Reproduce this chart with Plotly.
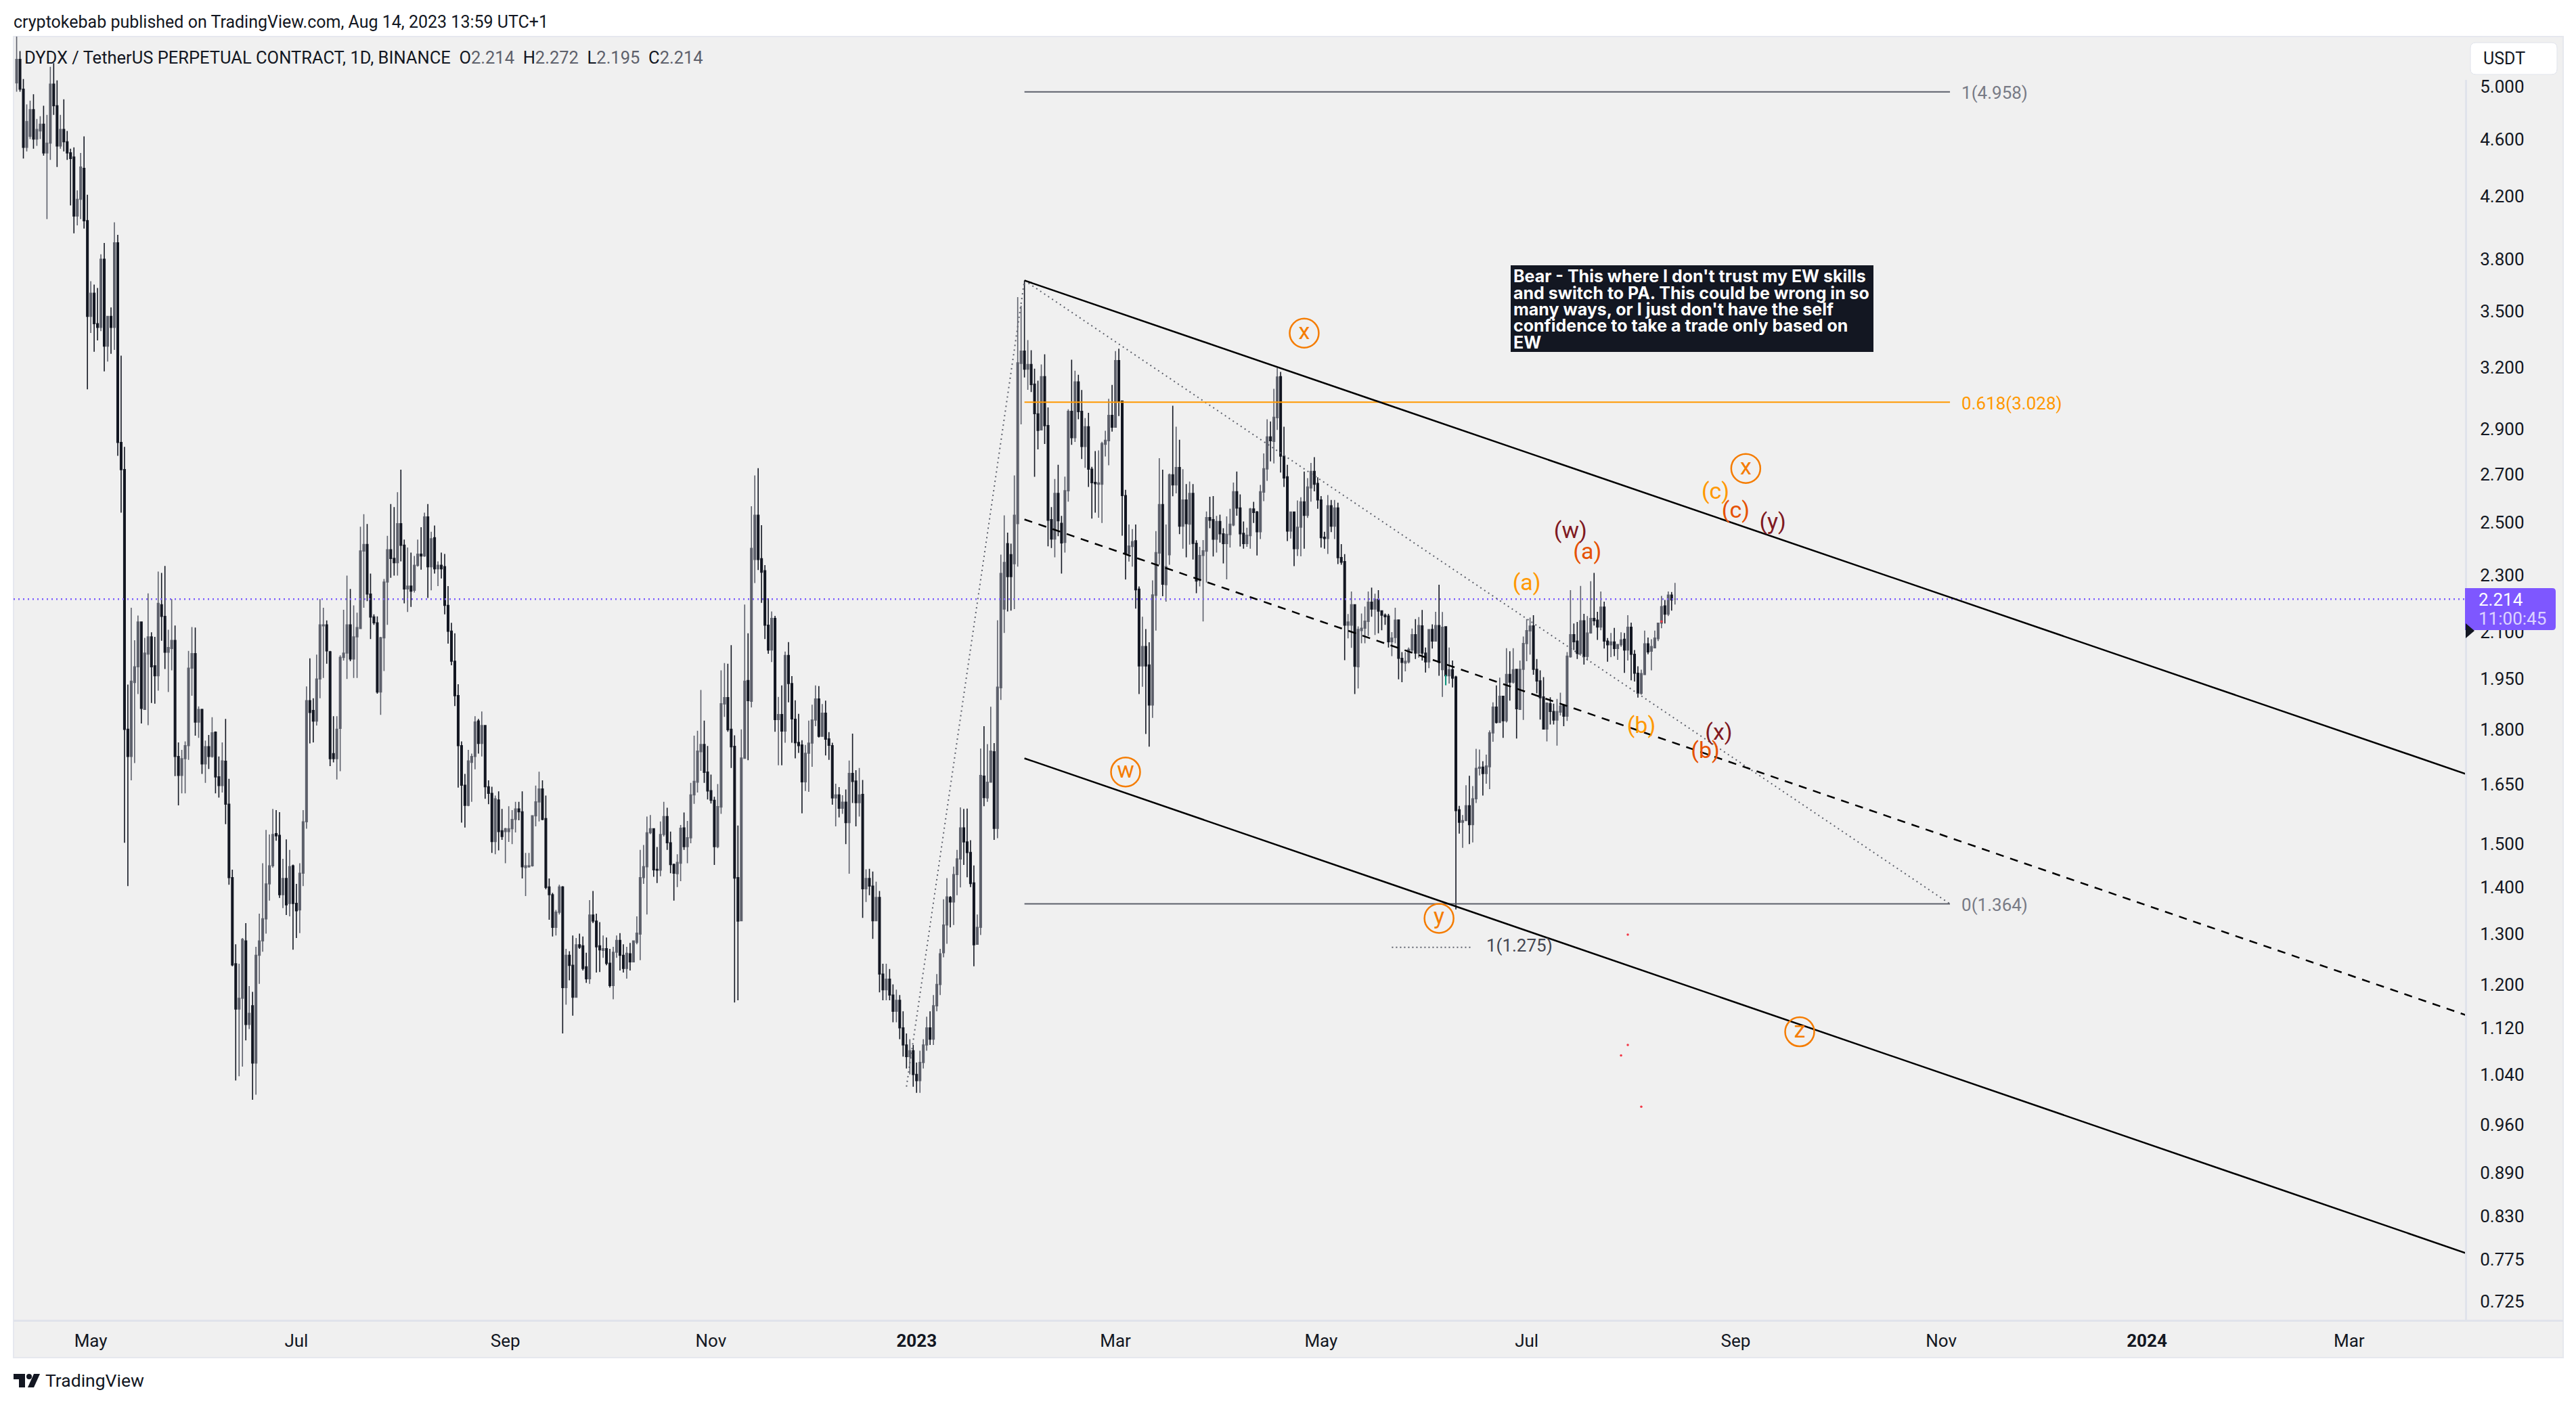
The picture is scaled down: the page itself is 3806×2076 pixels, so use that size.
import math
import pandas as pd
import plotly.graph_objects as go

# daily candles, 2022-04-09 to 2023-08-14
start_date = "2022-04-09"
opens = [
    5.03,5.22,4.98,4.54,4.62,4.82,4.60,4.66,4.71,4.50,
    4.57,5.02,4.85,4.55,4.67,4.58,4.50,4.47,4.07,4.18,
    4.39,4.04,3.47,3.60,3.43,3.41,3.80,3.31,3.47,3.41,
    3.90,2.84,2.72,1.80,1.724,1.939,1.988,2.135,1.858,2.029,
    2.085,1.991,1.960,2.194,2.154,2.035,2.047,2.073,1.724,1.673,
    1.718,1.754,1.984,2.030,1.821,1.858,1.704,1.751,1.724,1.792,
    1.669,1.646,1.711,1.598,1.422,1.240,1.154,1.174,1.286,1.126,
    1.160,1.059,1.257,1.286,1.332,1.408,1.449,1.525,1.521,1.384,
    1.420,1.365,1.449,1.365,1.351,1.432,1.554,1.884,1.855,1.824,
    1.950,2.122,2.125,2.036,1.732,1.718,1.803,2.018,2.032,2.125,
    2.013,2.085,2.113,2.390,2.415,2.232,2.152,2.132,1.910,2.082,
    2.275,2.395,2.362,2.346,2.496,2.412,2.250,2.260,2.245,2.336,
    2.378,2.371,2.523,2.331,2.441,2.323,2.336,2.331,2.192,2.104,
    2.006,1.899,1.754,1.647,1.595,1.708,1.724,1.824,1.760,1.811,
    1.643,1.626,1.506,1.609,1.532,1.530,1.530,1.537,1.560,1.586,
    1.579,1.445,1.447,1.449,1.569,1.604,1.637,1.562,1.401,1.384,
    1.314,1.346,1.401,1.194,1.257,1.237,1.176,1.278,1.276,1.234,
    1.211,1.340,1.327,1.276,1.267,1.270,1.241,1.198,1.263,1.287,
    1.257,1.231,1.260,1.244,1.283,1.300,1.422,1.447,1.527,1.537,
    1.441,1.439,1.523,1.567,1.503,1.452,1.431,1.455,1.539,1.494,
    1.515,1.622,1.655,1.737,1.757,1.682,1.633,1.608,1.494,1.591,
    1.874,1.893,1.800,1.752,1.422,1.328,1.719,1.945,1.882,2.358,
    2.530,2.361,2.316,2.124,2.042,2.147,1.828,1.843,1.795,2.024,
    1.936,1.829,1.763,1.756,1.656,1.733,1.761,1.827,1.889,1.780,
    1.847,1.773,1.754,1.614,1.622,1.588,1.603,1.552,1.678,1.658,
    1.602,1.623,1.397,1.420,1.403,1.328,1.378,1.22,1.19,1.21,
    1.18,1.15,1.17,1.12,1.09,1.07,1.08,1.04,1.03,1.06,
    1.09,1.12,1.10,1.16,1.20,1.262,1.319,1.378,1.368,1.429,
    1.465,1.539,1.505,1.480,1.410,1.279,1.314,1.671,1.614,1.655,
    1.737,1.538,1.923,2.179,2.418,2.376,2.342,2.496,3.220,3.284,
    3.191,3.215,3.116,2.972,2.897,3.153,2.917,2.512,2.436,2.619,
    2.497,2.423,2.630,2.984,2.862,3.127,2.984,2.822,2.912,2.722,
    2.665,2.658,2.658,2.832,2.848,2.965,2.910,3.235,3.033,2.610,
    2.380,2.407,2.429,2.249,1.991,2.053,1.994,1.871,2.227,2.382,
    2.573,2.265,2.376,2.698,2.655,2.729,2.486,2.592,2.494,2.619,
    2.419,2.281,2.373,2.389,2.520,2.512,2.435,2.505,2.456,2.418,
    2.453,2.491,2.626,2.559,2.458,2.418,2.449,2.555,2.543,2.464,
    2.624,2.723,2.865,2.845,2.954,3.153,2.779,2.689,2.467,2.543,
    2.399,2.482,2.584,2.529,2.642,2.712,2.661,2.592,2.443,2.438,
    2.568,2.486,2.559,2.365,2.350,2.124,2.124,2.194,1.988,2.106,
    2.114,2.137,2.203,2.179,2.213,2.173,2.158,2.155,2.069,2.083,
    2.142,2.015,2.000,2.004,2.042,2.092,2.032,2.122,2.032,2.004,
    2.110,2.071,2.123,1.979,2.119,1.960,1.979,1.956,1.584,1.553,
    1.557,1.594,1.547,1.612,1.692,1.695,1.678,1.696,1.790,1.865,
    1.820,1.897,1.825,1.964,1.940,1.980,1.858,1.980,2.063,2.105,
    2.122,1.980,1.944,1.895,1.801,1.875,1.852,1.827,1.850,1.869,
    1.838,2.020,2.092,2.071,2.031,2.139,2.021,2.098,2.147,2.141,
    2.118,2.186,2.071,2.059,2.068,2.047,2.059,2.077,2.042,2.117,
    2.028,1.968,1.906,1.964,2.062,2.038,2.049,2.079,2.131,2.190,
    2.162,2.228,2.214,
]
highs = [
    5.42,5.29,5.06,4.86,4.89,4.94,4.75,4.77,4.85,4.78,
    5.16,5.19,5.05,4.78,4.90,4.66,4.53,4.54,4.24,4.50,
    4.62,4.21,3.67,3.65,3.63,3.83,3.90,3.47,3.52,4.03,
    3.95,3.26,2.82,1.933,2.184,2.074,2.157,2.137,2.082,2.234,
    2.100,2.085,2.313,2.308,2.334,2.109,2.214,2.123,1.763,1.742,
    1.766,2.039,2.118,2.116,1.867,1.860,1.768,1.784,1.835,1.794,
    1.724,1.763,1.830,1.664,1.440,1.279,1.240,1.292,1.323,1.197,
    1.186,1.274,1.343,1.455,1.534,1.523,1.586,1.583,1.578,1.465,
    1.511,1.486,1.452,1.408,1.455,1.583,1.927,2.015,1.891,2.027,
    2.214,2.184,2.140,2.039,1.838,1.838,2.025,2.177,2.298,2.250,
    2.192,2.167,2.484,2.534,2.495,2.306,2.161,2.154,2.085,2.286,
    2.448,2.575,2.563,2.624,2.72,2.434,2.403,2.384,2.371,2.434,
    2.482,2.540,2.575,2.464,2.489,2.351,2.384,2.379,2.260,2.132,
    2.097,1.934,1.766,1.677,1.742,1.732,1.838,1.830,1.852,1.811,
    1.660,1.643,1.620,1.631,1.586,1.539,1.593,1.583,1.604,1.604,
    1.631,1.479,1.479,1.569,1.646,1.683,1.660,1.620,1.420,1.388,
    1.351,1.406,1.403,1.270,1.265,1.297,1.292,1.301,1.295,1.262,
    1.372,1.392,1.343,1.325,1.297,1.293,1.270,1.274,1.297,1.302,
    1.279,1.274,1.282,1.287,1.337,1.486,1.498,1.567,1.571,1.537,
    1.493,1.555,1.604,1.589,1.530,1.454,1.476,1.546,1.577,1.556,
    1.653,1.782,1.796,1.916,1.825,1.753,1.675,1.617,1.650,1.977,
    2.000,1.998,2.058,1.783,1.545,1.800,2.195,2.097,2.566,2.695,
    2.726,2.490,2.337,2.217,2.171,2.156,1.895,1.930,2.037,2.068,
    1.959,1.885,1.845,1.769,1.756,1.825,1.872,1.930,1.928,1.874,
    1.884,1.792,1.762,1.651,1.642,1.621,1.636,1.713,1.788,1.687,
    1.693,1.661,1.441,1.442,1.436,1.413,1.392,1.24,1.24,1.23,
    1.20,1.19,1.18,1.15,1.11,1.10,1.09,1.06,1.08,1.10,
    1.14,1.15,1.18,1.22,1.27,1.374,1.421,1.381,1.447,1.486,
    1.590,1.586,1.587,1.509,1.450,1.341,1.746,1.809,1.758,1.866,
    1.761,2.141,2.376,2.529,2.461,2.418,2.695,3.578,3.529,3.674,
    3.342,3.288,3.193,3.133,3.215,3.267,3.003,2.563,2.680,2.741,
    2.527,2.690,2.994,3.239,3.183,3.163,3.087,2.952,2.977,2.732,
    2.801,2.804,2.843,2.893,3.044,3.112,3.284,3.296,3.036,2.634,
    2.493,2.475,2.493,2.259,2.153,2.111,2.067,2.281,2.467,2.770,
    2.720,2.493,2.703,3.011,2.912,2.852,2.722,2.658,2.669,2.658,
    2.431,2.406,2.432,2.545,2.605,2.608,2.527,2.532,2.478,2.525,
    2.556,2.665,2.712,2.615,2.505,2.480,2.559,2.584,2.547,2.655,
    2.791,2.947,2.936,3.093,3.197,3.177,2.912,2.741,2.545,2.543,
    2.590,2.603,2.712,2.683,2.749,2.774,2.687,2.608,2.464,2.612,
    2.592,2.592,2.581,2.416,2.378,2.162,2.241,2.195,2.120,2.164,
    2.188,2.241,2.255,2.233,2.246,2.174,2.164,2.163,2.101,2.184,
    2.143,2.035,2.035,2.050,2.113,2.145,2.152,2.176,2.050,2.109,
    2.127,2.170,2.265,2.169,2.119,2.050,2.008,1.960,1.594,1.571,
    1.647,1.672,1.645,1.745,1.743,1.711,1.729,1.797,1.879,1.930,
    1.954,1.899,2.048,2.038,2.048,1.980,2.008,2.086,2.145,2.150,
    2.158,2.013,1.977,1.956,1.877,1.894,1.875,1.889,1.908,1.874,
    2.035,2.246,2.130,2.135,2.261,2.163,2.155,2.278,2.308,2.170,
    2.241,2.205,2.081,2.098,2.115,2.060,2.100,2.098,2.158,2.133,
    2.042,1.990,1.979,2.106,2.083,2.077,2.106,2.131,2.225,2.211,
    2.241,2.239,2.272,
]
lows = [
    4.96,4.96,4.46,4.51,4.60,4.53,4.55,4.60,4.48,4.05,
    4.45,4.78,4.40,4.53,4.51,4.45,4.14,3.96,4.01,4.05,
    3.99,3.09,3.38,3.28,3.34,3.39,3.18,3.23,3.27,3.29,
    2.78,2.54,1.503,1.403,1.660,1.706,1.904,1.817,1.858,1.812,
    1.877,1.875,1.914,2.072,1.981,1.910,1.977,1.671,1.595,1.626,
    1.626,1.715,1.899,1.782,1.776,1.677,1.653,1.690,1.721,1.626,
    1.615,1.628,1.548,1.406,1.235,1.030,1.037,1.053,1.098,1.118,
    0.999,1.007,1.201,1.264,1.301,1.371,1.445,1.508,1.377,1.355,
    1.340,1.337,1.268,1.292,1.302,1.403,1.537,1.760,1.763,1.811,
    1.891,1.953,1.998,1.698,1.708,1.662,1.684,2.008,1.950,2.006,
    1.953,1.953,2.112,2.184,2.207,2.078,2.125,1.905,1.842,1.975,
    2.125,2.290,2.298,2.298,2.351,2.199,2.169,2.187,2.237,2.331,
    2.320,2.368,2.218,2.245,2.306,2.260,2.288,2.161,2.063,1.993,
    1.868,1.641,1.552,1.540,1.593,1.604,1.689,1.732,1.724,1.612,
    1.598,1.479,1.476,1.485,1.510,1.455,1.505,1.500,1.528,1.558,
    1.420,1.381,1.445,1.447,1.543,1.555,1.558,1.396,1.330,1.295,
    1.297,1.341,1.110,1.162,1.208,1.142,1.176,1.270,1.227,1.203,
    1.201,1.323,1.223,1.224,1.252,1.237,1.194,1.172,1.252,1.227,
    1.223,1.211,1.227,1.244,1.279,1.247,1.408,1.341,1.524,1.424,
    1.410,1.425,1.518,1.486,1.432,1.371,1.401,1.414,1.486,1.455,
    1.502,1.599,1.628,1.685,1.653,1.610,1.600,1.451,1.490,1.574,
    1.836,1.793,1.693,1.166,1.17,1.327,1.718,1.714,1.864,2.271,
    2.319,2.201,2.078,2.030,2.003,1.793,1.700,1.700,1.762,1.879,
    1.762,1.719,1.734,1.575,1.632,1.630,1.696,1.809,1.777,1.779,
    1.727,1.715,1.597,1.543,1.565,1.574,1.500,1.431,1.601,1.543,
    1.567,1.334,1.368,1.383,1.290,1.327,1.185,1.17,1.17,1.17,
    1.13,1.13,1.10,1.07,1.05,1.04,1.02,1.01,1.01,1.05,
    1.08,1.09,1.09,1.15,1.18,1.253,1.280,1.314,1.319,1.383,
    1.400,1.451,1.423,1.401,1.235,1.278,1.298,1.593,1.604,1.655,
    1.510,1.514,1.886,2.098,2.171,2.174,2.179,2.331,2.923,3.149,
    3.088,3.077,2.689,2.809,2.895,2.833,2.408,2.401,2.366,2.447,
    2.306,2.384,2.585,2.829,2.842,2.947,2.766,2.728,2.646,2.516,
    2.540,2.520,2.499,2.777,2.739,2.889,2.908,2.962,2.449,2.284,
    2.350,2.331,2.181,1.904,1.926,1.787,1.751,1.833,2.106,2.339,
    2.224,2.205,2.338,2.607,2.619,2.455,2.399,2.366,2.414,2.358,
    2.235,2.259,2.137,2.273,2.478,2.369,2.384,2.422,2.343,2.285,
    2.403,2.486,2.528,2.407,2.399,2.406,2.399,2.499,2.373,2.436,
    2.587,2.672,2.756,2.747,2.897,2.707,2.646,2.428,2.438,2.333,
    2.371,2.370,2.399,2.519,2.585,2.628,2.556,2.403,2.399,2.379,
    2.463,2.436,2.341,2.338,2.009,2.080,2.049,1.904,1.921,2.064,
    2.064,2.088,2.153,2.091,2.097,2.107,2.125,2.050,2.022,2.064,
    1.949,1.940,1.974,1.999,2.032,2.013,2.017,2.008,1.970,1.984,
    2.047,2.070,1.960,1.895,1.931,1.936,1.924,1.352,1.525,1.491,
    1.556,1.500,1.504,1.601,1.673,1.620,1.651,1.637,1.765,1.817,
    1.819,1.776,1.820,1.884,1.936,1.774,1.857,1.827,2.006,2.027,
    1.963,1.906,1.828,1.800,1.766,1.814,1.814,1.754,1.840,1.809,
    1.824,2.017,2.042,2.013,2.024,1.995,2.008,2.096,2.123,2.075,
    2.107,2.047,2.004,2.019,2.022,2.010,2.052,1.969,2.008,1.946,
    1.942,1.893,1.902,1.963,2.028,1.977,2.048,2.071,2.114,2.130,
    2.155,2.174,2.195,
]
closes = [
    5.22,4.98,4.54,4.73,4.82,4.60,4.67,4.71,4.50,4.57,
    5.02,4.85,4.55,4.67,4.58,4.50,4.46,4.07,4.18,4.40,
    4.04,3.47,3.60,3.43,3.41,3.80,3.31,3.47,3.41,3.90,
    2.84,2.72,1.80,1.724,1.943,1.988,2.135,1.861,2.032,2.085,
    1.988,1.960,2.199,2.154,2.035,2.050,2.073,1.724,1.673,1.718,
    1.754,1.984,2.030,1.821,1.858,1.704,1.751,1.724,1.790,1.669,
    1.646,1.712,1.598,1.422,1.238,1.154,1.174,1.289,1.126,1.146,
    1.059,1.257,1.286,1.332,1.408,1.449,1.523,1.520,1.384,1.420,
    1.362,1.447,1.365,1.349,1.432,1.554,1.884,1.849,1.824,1.950,
    2.125,2.125,2.039,1.718,1.718,1.800,2.018,2.032,2.125,2.013,
    2.085,2.116,2.390,2.415,2.232,2.152,2.132,1.910,2.082,2.275,
    2.395,2.362,2.346,2.496,2.412,2.250,2.260,2.242,2.336,2.378,
    2.371,2.523,2.331,2.437,2.323,2.336,2.323,2.192,2.104,2.006,
    1.899,1.754,1.647,1.595,1.712,1.724,1.821,1.760,1.811,1.643,
    1.626,1.506,1.612,1.530,1.518,1.537,1.537,1.560,1.586,1.579,
    1.447,1.449,1.449,1.569,1.604,1.637,1.560,1.400,1.384,1.314,
    1.346,1.401,1.194,1.257,1.237,1.176,1.278,1.273,1.231,1.211,
    1.340,1.327,1.274,1.268,1.270,1.241,1.198,1.263,1.287,1.257,
    1.231,1.261,1.244,1.286,1.302,1.422,1.447,1.527,1.537,1.440,
    1.439,1.523,1.567,1.503,1.452,1.432,1.457,1.538,1.494,1.515,
    1.622,1.657,1.739,1.757,1.681,1.632,1.608,1.494,1.592,1.875,
    1.893,1.799,1.751,1.421,1.327,1.720,1.943,1.884,2.400,2.530,
    2.358,2.311,2.124,2.042,2.147,1.828,1.843,1.795,2.024,1.936,
    1.830,1.762,1.754,1.656,1.733,1.761,1.827,1.889,1.780,1.847,
    1.772,1.755,1.614,1.622,1.588,1.603,1.552,1.678,1.657,1.602,
    1.622,1.397,1.420,1.403,1.328,1.378,1.22,1.19,1.21,1.18,
    1.15,1.17,1.12,1.09,1.07,1.08,1.04,1.03,1.06,1.09,
    1.12,1.10,1.16,1.20,1.26,1.319,1.379,1.368,1.429,1.465,
    1.539,1.505,1.480,1.409,1.278,1.314,1.673,1.615,1.655,1.739,
    1.538,1.925,2.306,2.347,2.295,2.295,2.530,3.223,3.284,3.191,
    3.215,3.114,2.973,2.895,3.153,2.917,2.510,2.436,2.619,2.508,
    2.421,2.630,2.984,2.862,3.127,2.983,2.822,2.912,2.722,2.664,
    2.660,2.663,2.835,2.850,2.965,2.910,3.235,3.032,2.610,2.380,
    2.409,2.426,2.247,1.991,2.053,1.991,1.871,2.229,2.384,2.573,
    2.267,2.331,2.698,2.655,2.729,2.486,2.592,2.496,2.619,2.419,
    2.279,2.373,2.391,2.520,2.510,2.435,2.505,2.456,2.418,2.454,
    2.494,2.626,2.559,2.456,2.418,2.451,2.555,2.541,2.464,2.626,
    2.724,2.865,2.848,2.956,3.151,2.779,2.684,2.467,2.543,2.399,
    2.482,2.584,2.529,2.646,2.712,2.658,2.592,2.441,2.438,2.568,
    2.486,2.559,2.365,2.348,2.124,2.135,2.194,1.990,2.110,2.114,
    2.138,2.203,2.179,2.213,2.172,2.158,2.153,2.069,2.081,2.141,
    2.015,2.002,2.006,2.044,2.092,2.032,2.123,2.032,2.004,2.109,
    2.071,2.123,2.002,2.117,1.960,1.979,1.953,1.582,1.553,1.557,
    1.594,1.547,1.612,1.692,1.695,1.678,1.698,1.790,1.865,1.820,
    1.897,1.825,1.964,1.940,1.979,1.860,1.980,2.063,2.106,2.121,
    1.980,1.944,1.893,1.801,1.877,1.852,1.827,1.852,1.868,1.838,
    2.022,2.092,2.069,2.031,2.139,2.021,2.098,2.147,2.139,2.118,
    2.186,2.071,2.059,2.068,2.047,2.060,2.075,2.042,2.117,2.028,
    1.968,1.906,1.967,2.062,2.036,2.053,2.081,2.131,2.188,2.162,
    2.228,2.211,2.214,
]

last_price = 2.214
price_ticks = [5.0,4.6,4.2,3.8,3.5,3.2,2.9,2.7,2.5,2.3,2.1,1.95,1.8,1.65,1.5,1.4,1.3,1.2,1.12,1.04,0.96,0.89,0.83,0.775,0.725]
month_ticks = ["2022-05-01","2022-07-01","2022-09-01","2022-11-01","2023-01-01","2023-03-01","2023-05-01","2023-07-01","2023-09-01","2023-11-01","2024-01-01","2024-03-01"]
month_labels = ["May","Jul","Sep","Nov","<b>2023</b>","Mar","May","Jul","Sep","Nov","<b>2024</b>","Mar"]
x_range = ["2022-04-08 02:00","2024-04-04 14:00"]
y_range = [0.7035,5.414]

# parallel channel
channel_x = ["2023-02-02","2024-04-04 14:00"]
channel_top = [3.674,1.677]
channel_mid = [2.513,1.143]
channel_bot = [1.719,0.783]

# fib path and levels
fib_path_x = ["2022-12-29","2023-02-02","2023-11-03 14:00"]
fib_path_y = [1.02,3.674,1.364]
fib_x = ["2023-02-02","2023-11-03 14:00"]
fib_levels = [4.958,3.028,1.364]
fib_names = ["1(4.958)","0.618(3.028)","0(1.364)"]
fib_colors = ["#5d606b","#ff9800","#5d606b"]
ext_x = ["2023-05-22","2023-06-14 12:00"]
ext_level = 1.273

# wave labels
circled_x = ["2023-04-26","2023-03-04","2023-06-05","2023-09-20","2023-09-04"]
circled_y = [3.379,1.682,1.333,1.113,2.725]
circled_text = ["x","w","y","z","x"]
wave_x = ["2023-07-01","2023-08-04","2023-08-26","2023-07-19","2023-08-23","2023-09-01","2023-07-14","2023-08-27","2023-09-12"]
wave_y = [2.266,1.806,2.621,2.381,1.735,2.544,2.462,1.787,2.498]
wave_text = ["(a)","(b)","(c)","(a)","(b)","(c)","(w)","(x)","(y)"]
wave_colors = ["#ff9800","#ff9800","#ff9800","#e65100","#e65100","#e65100","#801922","#801922","#801922"]

red_x = ["2023-07-31","2023-07-31","2023-07-29","2023-08-04","2023-08-10"]
red_y = [1.299,1.090,1.072,0.988,2.137]

note_lines = [
    "Bear - This where I don't trust my EW skills",
    "and switch to PA. This could be wrong in so",
    "many ways, or I just don't have the self",
    "confidence to take a trade only based on",
    "EW",
]

DARK = "#131722"
GREY = "#5d606b"
FONT = "Roboto"
W, H = 3806, 2076
L, R, T, B = 20, 3643, 54, 1951


def fx(x):
    return (x - L) / (R - L)


def fy(y):
    return (B - y) / (B - T)


def rect(x0, y0, x1, y1, fill, line=None, layer="above"):
    return dict(type="rect", xref="paper", yref="paper", x0=fx(x0), x1=fx(x1), y0=fy(y0), y1=fy(y1),
                fillcolor=fill, line=dict(color=line or fill, width=2 if line else 0), layer=layer)


def poly(points, fill):
    d = "M" + " L".join(f"{fx(x)} {fy(y)}" for x, y in points) + " Z"
    return dict(type="path", xref="paper", yref="paper", path=d, fillcolor=fill, line=dict(width=0), layer="above")


def text(x, y, s, size=26, color=DARK, anchor="left", family=FONT):
    return dict(xref="paper", yref="paper", x=fx(x), y=fy(y), text=s, showarrow=False, xanchor=anchor, yanchor="middle",
                font=dict(family=family, size=size, color=color), borderpad=0, borderwidth=0)


dates = pd.date_range(start_date, periods=len(closes), freq="D")

fig = go.Figure()
fig.add_trace(go.Scatter(x=x_range, y=[last_price, last_price], mode="lines",
                         line=dict(color="#7b5cff", width=2.5, dash="2px,5px")))
fig.add_trace(go.Candlestick(
    x=dates, open=opens, high=highs, low=lows, close=closes, whiskerwidth=0,
    increasing=dict(line=dict(color=GREY, width=1.6), fillcolor=GREY),
    decreasing=dict(line=dict(color=DARK, width=1.6), fillcolor=DARK),
))
# small teal tick on one candle
fig.add_trace(go.Scatter(x=[dates[424], dates[424]], y=[1.963, 1.931], mode="lines", line=dict(color="#089981", width=2)))

fig.add_trace(go.Scatter(x=fib_path_x, y=fib_path_y, mode="lines", line=dict(color=GREY, width=2, dash="2px,5px")))
for level, color in zip(fib_levels, fib_colors):
    fig.add_trace(go.Scatter(x=fib_x, y=[level, level], mode="lines", line=dict(color=color, width=2)))
fig.add_trace(go.Scatter(x=ext_x, y=[ext_level, ext_level], mode="lines", line=dict(color=GREY, width=2, dash="2px,4px")))
fig.add_trace(go.Scatter(x=channel_x, y=channel_top, mode="lines", line=dict(color="#000000", width=2.5)))
fig.add_trace(go.Scatter(x=channel_x, y=channel_mid, mode="lines", line=dict(color="#000000", width=2.5, dash="12px,10px")))
fig.add_trace(go.Scatter(x=channel_x, y=channel_bot, mode="lines", line=dict(color="#000000", width=2.5)))

fig.add_trace(go.Scatter(x=["2023-11-07"] * 3, y=[v * 0.9957 for v in fib_levels], mode="text", text=fib_names, textposition="middle right",
                         textfont=dict(family=FONT, size=26, color=["#787b86", "#ff9800", "#787b86"])))
fig.add_trace(go.Scatter(x=["2023-06-19"], y=[ext_level], mode="text", text=["1(1.275)"], textposition="middle right",
                         textfont=dict(family=FONT, size=26, color="#434651")))

fig.add_trace(go.Scatter(x=circled_x, y=circled_y, mode="markers+text", text=circled_text, textposition="middle center",
                         marker=dict(symbol="circle-open", size=43, color="#f57c00", line=dict(color="#f57c00", width=2.5)),
                         textfont=dict(family=FONT, size=34, color="#f57c00")))
fig.add_trace(go.Scatter(x=wave_x, y=wave_y, mode="text", text=wave_text, textposition="middle center",
                         textfont=dict(family=FONT, size=34, color=wave_colors)))
fig.add_trace(go.Scatter(x=red_x, y=red_y, mode="markers", marker=dict(color="#f23645", size=3.5)))

shapes = [
    rect(20, 54, 3787, 2006, "#f0f0f0", "#e6e8ee", layer="below"),
    rect(3642, 118, 3645, 1951, "#e0e3eb"),
    rect(20, 1950, 3787, 1953, "#e0e3eb"),
    dict(type="path", xref="paper", yref="paper", layer="above", fillcolor="#ffffff", line=dict(color="#e0e3eb", width=1),
         path=f"M{fx(3658)} {fy(63)} L{fx(3770)} {fy(63)} Q{fx(3778)} {fy(63)} {fx(3778)} {fy(71)} L{fx(3778)} {fy(102)} "
              f"Q{fx(3778)} {fy(110)} {fx(3770)} {fy(110)} L{fx(3658)} {fy(110)} Q{fx(3650)} {fy(110)} {fx(3650)} {fy(102)} "
              f"L{fx(3650)} {fy(71)} Q{fx(3650)} {fy(63)} {fx(3658)} {fy(63)} Z"),
    dict(type="path", xref="paper", yref="paper", layer="above", fillcolor="#7e57ff", line=dict(width=0),
         path=f"M{fx(3642)} {fy(869)} L{fx(3771)} {fy(869)} Q{fx(3776)} {fy(869)} {fx(3776)} {fy(874)} L{fx(3776)} {fy(926)} "
              f"Q{fx(3776)} {fy(931)} {fx(3771)} {fy(931)} L{fx(3642)} {fy(931)} Z"),
    poly([(3643, 921), (3656, 932), (3643, 943)], DARK),
    rect(2232, 392, 2768, 520, DARK),
    # TradingView logo
    poly([(20, 2030), (37, 2030), (37, 2050), (28, 2050), (28, 2038), (20, 2038)], DARK),
    dict(type="circle", xref="paper", yref="paper", layer="above", fillcolor=DARK, line=dict(width=0),
         x0=fx(39), x1=fx(47), y0=fy(2030), y1=fy(2038)),
    poly([(50, 2030), (59, 2030), (50, 2050), (41, 2050)], DARK),
]

value = "color:#5d606b"
gap = "\u00a0\u00a0"
annotations = [
    text(20, 32, "cryptokebab published on TradingView.com, Aug 14, 2023 13:59 UTC+1", size=25),
    text(36, 85, f'DYDX / TetherUS PERPETUAL CONTRACT, 1D, BINANCE{gap}O<span style="{value}">2.214</span>{gap}'
                 f'H<span style="{value}">2.272</span>{gap}L<span style="{value}">2.195</span>{gap}C<span style="{value}">2.214</span>', size=25.5),
    text(3700, 86, "USDT", size=25, anchor="center"),
    text(3662, 886, "2.214", size=26, color="#ffffff"),
    text(3662, 914, "11:00:45", size=26, color="#dcd3ff"),
    text(67, 2040, "TradingView", size=26.5),
]
for i, line in enumerate(note_lines):
    annotations.append(text(2236, 408 + i * 24.5, f"<b>{line}</b>", size=25, color="#ffffff", family="Inter"))

fig.update_layout(
    width=W, height=H, autosize=False, showlegend=False, hovermode=False,
    margin=dict(l=L, r=W - R, t=T, b=H - B, pad=0),
    paper_bgcolor="#ffffff", plot_bgcolor="rgba(0,0,0,0)",
    font=dict(family=FONT, size=26, color=DARK),
    shapes=shapes, annotations=annotations,
    xaxis=dict(type="date", range=x_range, rangeslider=dict(visible=False), showgrid=False, zeroline=False, showline=False,
               tickmode="array", tickvals=month_ticks, ticktext=month_labels, ticks="outside", ticklen=7, tickcolor="rgba(0,0,0,0)",
               tickfont=dict(family=FONT, size=26, color=DARK)),
    yaxis=dict(type="log", range=[math.log10(v) for v in y_range], side="right", showgrid=False, zeroline=False, showline=False,
               tickmode="array", tickvals=price_ticks, ticktext=[f"{v:.3f}" for v in price_ticks], ticks="outside", ticklen=15, tickcolor="rgba(0,0,0,0)",
               tickfont=dict(family=FONT, size=26, color=DARK)),
)

fig.write_html("out.html", post_script="document.body.style.margin='0';", config={"displayModeBar": False})
